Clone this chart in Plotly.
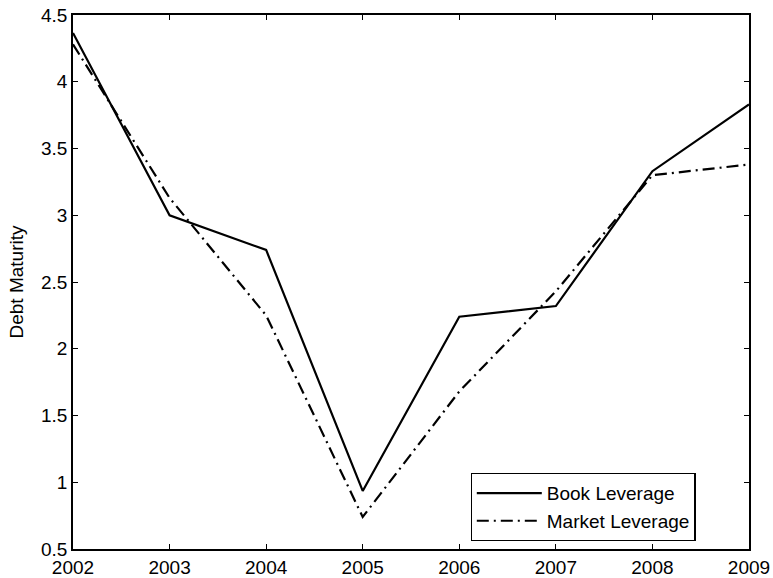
import plotly.graph_objects as go

years = [2002, 2003, 2004, 2005, 2006, 2007, 2008, 2009]
book_leverage = [4.365, 3.0, 2.74, 0.935, 2.24, 2.32, 3.33, 3.83]
market_leverage = [4.28, 3.13, 2.25, 0.74, 1.68, 2.43, 3.30, 3.38]
y_ticks = [0.5, 1, 1.5, 2, 2.5, 3, 3.5, 4, 4.5]
y_tick_labels = ["0.5", "1", "1.5", "2", "2.5", "3", "3.5", "4", "4.5"]

FONT = "Liberation Sans, Arial, Helvetica, sans-serif"

fig = go.Figure()
fig.add_trace(go.Scatter(x=years, y=book_leverage, mode="lines", name="Book Leverage",
                         line=dict(color="black", width=2.2)))
fig.add_trace(go.Scatter(x=years, y=market_leverage, mode="lines", name="Market Leverage",
                         line=dict(color="black", width=2.2, dash="12px,5px,2px,5px")))

axis_common = dict(showgrid=False, zeroline=False, showline=True, linecolor="black",
                   linewidth=1.5, mirror="ticks", ticks="inside", ticklen=5,
                   tickcolor="black", tickwidth=1, automargin=False,
                   ticklabeloverflow="allow",
                   tickfont=dict(family=FONT, size=19, color="black"))

fig.update_layout(
    width=773, height=578,
    margin=dict(l=73, r=24, t=15, b=29),
    paper_bgcolor="white", plot_bgcolor="white",
    font=dict(family=FONT, color="black"),
    xaxis=dict(range=[2002, 2009], tickmode="array", tickvals=years,
               ticktext=[str(y) for y in years], **axis_common),
    yaxis=dict(range=[0.5, 4.5], tickmode="array", tickvals=y_ticks,
               ticktext=y_tick_labels,
               title=dict(text="Debt Maturity", font=dict(family=FONT, size=19), standoff=12),
               **axis_common),
    legend=dict(x=0.921, y=0.015, xanchor="right", yanchor="bottom",
                bordercolor="black", borderwidth=1.2, bgcolor="white",
                font=dict(family=FONT, size=19, color="black"), tracegroupgap=0,
                itemwidth=65),
    showlegend=True,
)

fig.write_html("out.html", config={"displayModeBar": False},
               post_script="document.body.style.margin='0';document.body.style.overflow='hidden';")
